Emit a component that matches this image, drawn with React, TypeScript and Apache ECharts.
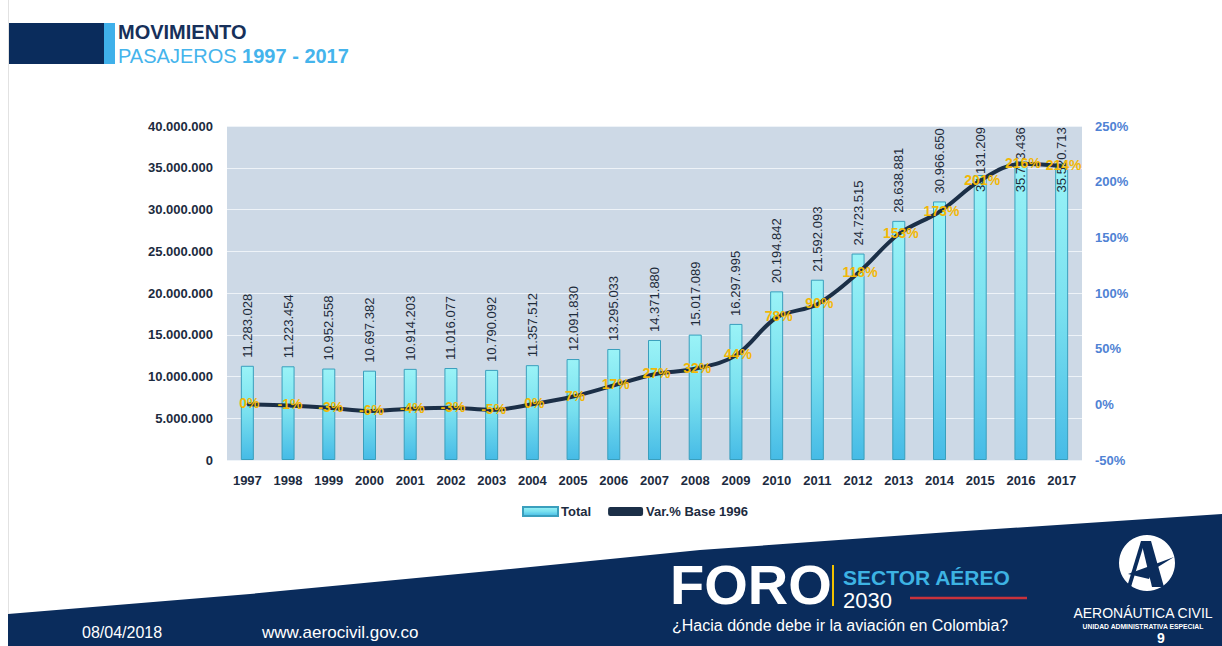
import React, { useEffect, useRef } from "react";
import * as echarts from "echarts";

const years = [
  "1997", "1998", "1999", "2000", "2001", "2002", "2003", "2004", "2005", "2006", "2007",
  "2008", "2009", "2010", "2011", "2012", "2013", "2014", "2015", "2016", "2017",
];
const totalPassengers = [
  11283028, 11223454, 10952558, 10697382, 10914203, 11016077, 10790092, 11357512, 12091830,
  13295033, 14371880, 15017089, 16297995, 20194842, 21592093, 24723515, 28638881, 30966650,
  34131209, 35773436, 35520713,
];
const varPercent = [0, -1, -3, -6, -4, -3, -5, 0, 7, 17, 27, 32, 44, 78, 90, 118, 153, 173, 201, 216, 214];

const leftAxisMin = 0;
const leftAxisMax = 40000000;
const leftAxisStep = 5000000;
const rightAxisMin = -50;
const rightAxisMax = 250;
const rightAxisStep = 50;

const seriesNames = ["Total", "Var.% Base 1996"];

const FONT = "'Liberation Sans', Arial, sans-serif";
const NAVY = "#0a2c5c";

const fmt = (n: number) => String(Math.round(n)).replace(/\B(?=(\d{3})+(?!\d))/g, ".");

// bar labels that Excel pulled down to stay inside the plot area
const labelPull: Record<string, number> = { "2015": -17, "2016": -31, "2017": -29 };

export default function App() {
  const ref = useRef<HTMLDivElement>(null);

  useEffect(() => {
    if (!ref.current) return;
    const chart = echarts.init(ref.current, null, { renderer: "svg" });

    const barGradient = new echarts.graphic.LinearGradient(0, 0, 0, 1, [
      { offset: 0, color: "#9af3f7" },
      { offset: 0.5, color: "#79e0ef" },
      { offset: 1, color: "#46bbe6" },
    ]);

    const option: any = {
      animation: false,
      backgroundColor: "#ffffff",
      textStyle: { fontFamily: FONT },
      grid: {
        left: 227,
        right: 140,
        top: 126,
        bottom: 186,
        show: true,
        backgroundColor: "#cdd9e6",
        borderWidth: 0,
        containLabel: false,
      },
      legend: {
        left: 517,
        top: 500,
        itemWidth: 35,
        itemHeight: 9,
        itemGap: 17,
        textStyle: { fontFamily: FONT, fontWeight: "bold", fontSize: 13, color: "#1c2b40", padding: [0, 0, 0, -2] },
        data: [
          { name: seriesNames[0], icon: "rect" },
          { name: seriesNames[1], icon: "roundRect" },
        ],
      },
      xAxis: {
        type: "category",
        data: years,
        axisLine: { show: false },
        axisTick: { show: false },
        axisLabel: { fontFamily: FONT, fontWeight: "bold", fontSize: 13, color: "#1c2b40", margin: 14 },
      },
      yAxis: [
        {
          type: "value",
          min: leftAxisMin,
          max: leftAxisMax,
          interval: leftAxisStep,
          position: "left",
          axisLine: { show: false },
          axisTick: { show: false },
          axisLabel: {
            formatter: (v: number) => fmt(v),
            fontFamily: FONT,
            fontWeight: "bold",
            fontSize: 13,
            color: "#1c2b40",
            margin: 14,
          },
          splitLine: { lineStyle: { color: "#eef3f8", width: 1 } },
        },
        {
          type: "value",
          min: rightAxisMin,
          max: rightAxisMax,
          interval: rightAxisStep,
          position: "right",
          axisLine: { show: false },
          axisTick: { show: false },
          axisLabel: {
            formatter: (v: number) => v + "%",
            fontFamily: FONT,
            fontWeight: "bold",
            fontSize: 13,
            color: "#4f82d4",
            margin: 13,
          },
          splitLine: { show: false },
        },
      ],
      series: [
        {
          name: seriesNames[0],
          type: "bar",
          barWidth: 13,
          itemStyle: { color: barGradient, borderColor: "#3a9fbd", borderWidth: 1 },
          label: {
            show: true,
            position: "top",
            rotate: 90,
            align: "left",
            verticalAlign: "middle",
            distance: 8,
            fontFamily: FONT,
            fontSize: 13,
            color: "#1d2b3a",
            formatter: (p: any) => fmt(p.value),
          },
          data: totalPassengers.map((v, i) =>
            labelPull[years[i]] !== undefined
              ? { value: v, label: { distance: labelPull[years[i]] } }
              : v
          ),
          z: 2,
        },
        {
          name: seriesNames[1],
          type: "line",
          yAxisIndex: 1,
          smooth: 0.35,
          symbol: "circle",
          symbolSize: 2,
          lineStyle: { color: "#1b2f47", width: 4 },
          itemStyle: { color: "#1b2f47" },
          label: {
            show: true,
            position: "inside",
            offset: [2, -1],
            formatter: (p: any) => p.value + "%",
            fontFamily: FONT,
            fontWeight: "bold",
            fontSize: 14,
            color: "#f2b705",
          },
          data: varPercent,
          z: 5,
        },
      ],
      graphic: [
        // slide left border line
        { type: "line", shape: { x1: 8.5, y1: 0, x2: 8.5, y2: 620 }, style: { stroke: "#e2e2e2", lineWidth: 1 } },
        // header
        { type: "rect", shape: { x: 9, y: 23, width: 95, height: 41 }, style: { fill: NAVY } },
        { type: "rect", shape: { x: 104, y: 23, width: 11, height: 41 }, style: { fill: "#3fb0ea" } },
        {
          type: "text",
          x: 118,
          y: 22,
          style: { text: "MOVIMIENTO", fontFamily: FONT, fontWeight: "bold", fontSize: 20, fill: "#17305a" },
        },
        {
          type: "text",
          x: 118,
          y: 46,
          style: {
            text: "{a|PASAJEROS }{b|1997 - 2017}",
            rich: {
              a: { fontFamily: FONT, fontSize: 20, fill: "#45b4ec", color: "#45b4ec" },
              b: { fontFamily: FONT, fontSize: 20, fontWeight: "bold", fill: "#45b4ec", color: "#45b4ec" },
            },
          },
        },
        // footer band
        {
          type: "polygon",
          shape: {
            points: [
              [8, 614], [250, 594], [500, 570], [700, 550], [950, 532], [1222, 514],
              [1222, 646], [8, 646],
            ],
          },
          style: { fill: NAVY },
        },
        {
          type: "text",
          x: 82,
          y: 632,
          style: { text: "08/04/2018", fontFamily: FONT, fontSize: 16, fill: "#ffffff", verticalAlign: "middle" },
        },
        {
          type: "text",
          x: 262,
          y: 632,
          style: { text: "www.aerocivil.gov.co", fontFamily: FONT, fontSize: 17, fill: "#ffffff", verticalAlign: "middle" },
        },
        {
          type: "text",
          x: 670,
          y: 584,
          style: { text: "FORO", fontFamily: FONT, fontWeight: "bold", fontSize: 56, fill: "#ffffff", verticalAlign: "middle" },
        },
        { type: "rect", shape: { x: 832, y: 565, width: 2, height: 41 }, style: { fill: "#f2c200" } },
        {
          type: "text",
          x: 843,
          y: 577,
          style: { text: "SECTOR AÉREO", fontFamily: FONT, fontWeight: "bold", fontSize: 21, fill: "#3db3e3", verticalAlign: "middle" },
        },
        {
          type: "text",
          x: 843,
          y: 600,
          style: { text: "2030", fontFamily: FONT, fontSize: 22, fill: "#ffffff", verticalAlign: "middle" },
        },
        { type: "line", shape: { x1: 910, y1: 598, x2: 1027, y2: 598 }, style: { stroke: "#c8323c", lineWidth: 2.5 } },
        {
          type: "text",
          x: 672,
          y: 625,
          style: {
            text: "¿Hacia dónde debe ir la aviación en Colombia?",
            fontFamily: FONT,
            fontSize: 16,
            fill: "#ffffff",
            verticalAlign: "middle",
          },
        },
        // logo
        { type: "circle", shape: { cx: 1147, cy: 563, r: 28 }, style: { fill: "#ffffff" } },
        {
          type: "polygon",
          shape: { points: [[1141, 541], [1151, 541], [1164, 587], [1152, 587]] },
          style: { fill: NAVY },
        },
        {
          type: "polygon",
          shape: { points: [[1141, 541], [1145, 541], [1131, 587], [1127, 587]] },
          style: { fill: NAVY },
        },
        {
          type: "polygon",
          shape: { points: [[1128, 574], [1150, 566], [1174, 557], [1153, 570], [1149, 579]] },
          style: { fill: NAVY },
        },
        {
          type: "text",
          x: 1143,
          y: 613,
          style: {
            text: "AERONÁUTICA CIVIL",
            fontFamily: FONT,
            fontSize: 14,
            fill: "#ffffff",
            align: "center",
            verticalAlign: "middle",
          },
        },
        {
          type: "text",
          x: 1143,
          y: 626,
          style: {
            text: "UNIDAD ADMINISTRATIVA ESPECIAL",
            fontFamily: FONT,
            fontSize: 6.8,
            fontWeight: "bold",
            fill: "#ffffff",
            align: "center",
            verticalAlign: "middle",
          },
        },
        {
          type: "text",
          x: 1161,
          y: 638,
          style: { text: "9", fontFamily: FONT, fontSize: 14, fontWeight: "bold", fill: "#ffffff", align: "center", verticalAlign: "middle" },
        },
      ],
    };

    chart.setOption(option);
    return () => chart.dispose();
  }, []);

  return (
    <div
      ref={ref}
      style={{ position: "fixed", left: 0, top: 0, width: 1222, height: 646, background: "#ffffff" }}
    />
  );
}
